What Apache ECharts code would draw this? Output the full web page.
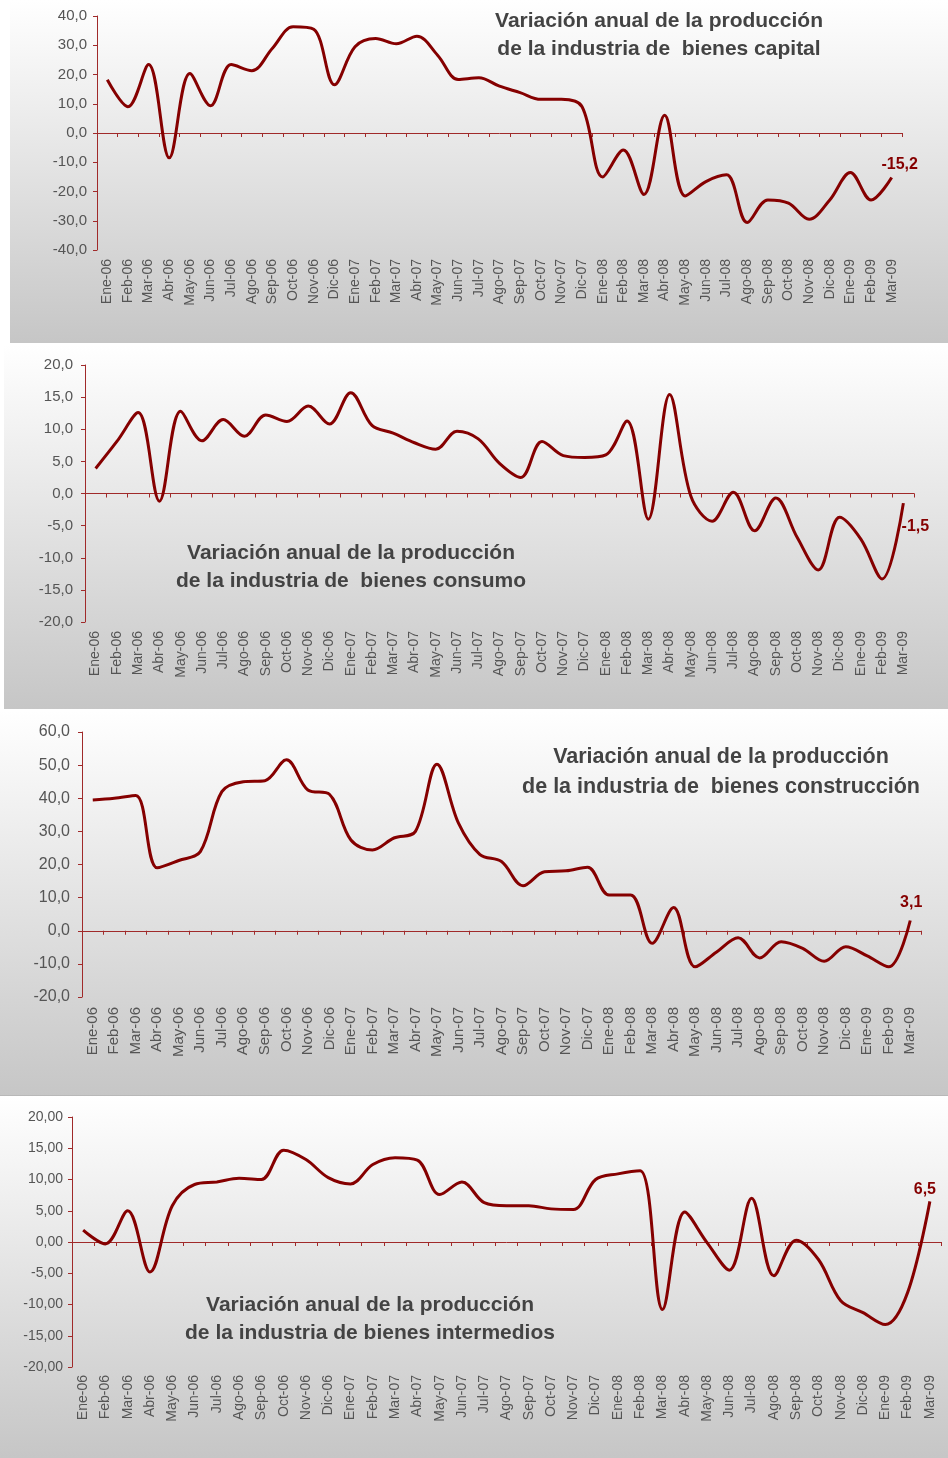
<!DOCTYPE html>
<html>
  <head>
    <meta charset="UTF-8" />
    <title>Variación anual de la producción industrial</title>
    <script src="https://cdn.jsdelivr.net/npm/echarts@6/dist/echarts.min.js"></script>
    <style>
      body {
        margin: 0;
        padding: 0;
        background: #fff;
      }
      #main {
        width: 948px;
        height: 1458px;
      }
    </style>
  </head>
  <body>
    <div id="main"></div>
    <script type="text/javascript">
      // meses del eje x
      var meses = [
        "Ene-06", "Feb-06", "Mar-06", "Abr-06", "May-06", "Jun-06", "Jul-06", "Ago-06", "Sep-06", "Oct-06", "Nov-06", "Dic-06",
        "Ene-07", "Feb-07", "Mar-07", "Abr-07", "May-07", "Jun-07", "Jul-07", "Ago-07", "Sep-07", "Oct-07", "Nov-07", "Dic-07",
        "Ene-08", "Feb-08", "Mar-08", "Abr-08", "May-08", "Jun-08", "Jul-08", "Ago-08", "Sep-08", "Oct-08", "Nov-08", "Dic-08",
        "Ene-09", "Feb-09", "Mar-09"
      ];

      var capital = [
        18.2, 9.0, 23.4, -8.5, 20.3, 9.3, 23.4, 21.3, 29.0, 36.3, 35.5, 16.5,
        29.5, 32.3, 30.5, 33.1, 26.6, 18.3, 18.9, 16.0, 13.8, 11.5, 11.5, 9.0,
        -15.0, -5.8, -21.0, 6.1, -21.5, -16.6, -14.3, -30.6, -22.9, -24.0, -29.5, -22.9,
        -13.5, -22.9, -15.2
      ];

      var consumo = [
        3.9, 8.1, 12.6, -1.2, 12.8, 8.2, 11.5, 8.9, 12.2, 11.2, 13.6, 10.8,
        15.7, 10.6, 9.4, 7.9, 6.9, 9.7, 8.5, 4.7, 2.5, 8.1, 5.9, 5.6,
        6.0, 11.3, -4.0, 15.4, -0.4, -4.3, 0.2, -5.8, -0.7, -6.8, -11.9, -3.7,
        -7.1, -13.3, -1.5
      ];

      var construccion = [
        39.5, 40.0, 40.8, 19.0, 21.2, 23.9, 42.0, 45.0, 45.3, 51.6, 42.5, 41.2,
        27.4, 24.4, 28.0, 30.0, 50.3, 32.5, 23.0, 20.9, 13.6, 17.8, 18.1, 19.2,
        10.8, 10.8, -3.8, 7.0, -10.9, -6.4, -2.1, -8.2, -3.3, -5.3, -9.2, -4.8,
        -7.6, -10.9, 3.1
      ];

      var intermedios = [
        1.9, -0.3, 5.0, -4.8, 5.8, 9.2, 9.6, 10.2, 10.0, 14.7, 13.2, 10.3,
        9.3, 12.4, 13.5, 13.1, 7.6, 9.6, 6.3, 5.8, 5.8, 5.3, 5.2, 10.0,
        10.9, 11.4, -10.8, 4.8, -0.1, -4.5, 7.0, -5.4, 0.3, -2.8, -9.4, -11.3,
        -13.2, -8.1, 6.5
      ];

      var titulos = [
        "Variación anual de la producción\nde la industria de  bienes capital",
        "Variación anual de la producción\nde la industria de  bienes consumo",
        "Variación anual de la producción\nde la industria de  bienes construcción",
        "Variación anual de la producción\nde la industria de bienes intermedios"
      ];

      var rojo = "#850000";
      var ejeColor = "#a02a2a";
      var textoGris = "#555555";
      var fuente = '"Liberation Sans", Arial, sans-serif';

      // posicion de cada panel (caja con degradado, grid, titulo)
      var paneles = [
        {
          datos: capital, caja: [10, 0, 938, 343],
          grid: { left: 97, top: 16, width: 805, height: 234 },
          min: -40, max: 40, paso: 10, dec: 1, yFont: 15, yMargin: 10, xFont: 14, xMargin: 9,
          tx: 659, ty: 7, tLh: 28, tFont: 21, etq: [8, -13]
        },
        {
          datos: consumo, caja: [4, 345, 944, 364],
          grid: { left: 85, top: 365, width: 829, height: 257 },
          min: -20, max: 20, paso: 5, dec: 1, yFont: 15, yMargin: 12, xFont: 14, xMargin: 9,
          tx: 351, ty: 539, tLh: 28, tFont: 21, etq: [12, 23]
        },
        {
          datos: construccion, caja: [0, 711, 948, 385],
          grid: { left: 82, top: 732, width: 839, height: 265 },
          min: -20, max: 60, paso: 10, dec: 1, yFont: 16, yMargin: 12, xFont: 15, xMargin: 10,
          tx: 721, ty: 742, tLh: 30, tFont: 21.5, etq: [1, -18]
        },
        {
          datos: intermedios, caja: [0, 1096, 948, 362],
          grid: { left: 72, top: 1117, width: 869, height: 250 },
          min: -20, max: 20, paso: 5, dec: 2, yFont: 14, yMargin: 9, xFont: 14, xMargin: 8,
          tx: 370, ty: 1291, tLh: 28, tFont: 21, etq: [-5, -12]
        }
      ];

      function coma(v, dec) {
        return Number(v).toFixed(dec).replace(".", ",");
      }

      var option = {
        animation: false,
        textStyle: { fontFamily: fuente },
        title: [],
        graphic: [],
        grid: [],
        xAxis: [],
        yAxis: [],
        series: []
      };

      paneles.forEach(function(p, k) {
        option.graphic.push({
          type: "rect",
          z: -10,
          silent: true,
          shape: { x: p.caja[0], y: p.caja[1], width: p.caja[2], height: p.caja[3] },
          style: {
            fill: new echarts.graphic.LinearGradient(0, 0, 0, 1, [
              { offset: 0, color: "#ffffff" },
              { offset: 1, color: "#c6c6c6" }
            ])
          }
        });

        option.title.push({
          text: titulos[k],
          left: p.tx,
          top: p.ty,
          textAlign: "center",
          padding: 0,
          textStyle: {
            fontFamily: fuente,
            fontSize: p.tFont,
            fontWeight: "bold",
            color: "#434343",
            lineHeight: p.tLh
          }
        });

        option.grid.push({
          left: p.grid.left,
          top: p.grid.top,
          width: p.grid.width,
          height: p.grid.height
        });

        // eje x sobre el cero (linea y marcas)
        option.xAxis.push({
          type: "category",
          gridIndex: k,
          data: meses,
          position: "bottom",
          boundaryGap: true,
          axisLine: { onZero: true, lineStyle: { color: ejeColor, width: 1 } },
          axisTick: { show: true, interval: 0, length: 4, lineStyle: { color: ejeColor } },
          axisLabel: { show: false },
          splitLine: { show: false }
        });
        // eje x abajo (solo etiquetas)
        option.xAxis.push({
          type: "category",
          gridIndex: k,
          data: meses,
          position: "bottom",
          boundaryGap: true,
          axisLine: { show: false, onZero: false },
          axisTick: { show: false },
          splitLine: { show: false },
          axisLabel: {
            interval: 0,
            rotate: 90,
            margin: p.xMargin,
            fontSize: p.xFont,
            color: textoGris,
            fontFamily: fuente
          }
        });

        option.yAxis.push({
          type: "value",
          gridIndex: k,
          min: p.min,
          max: p.max,
          interval: p.paso,
          axisLine: { show: true, lineStyle: { color: ejeColor, width: 1 } },
          axisTick: { show: true, length: 4, lineStyle: { color: ejeColor } },
          splitLine: { show: false },
          axisLabel: {
            margin: p.yMargin,
            fontSize: p.yFont,
            color: textoGris,
            fontFamily: fuente,
            formatter: function(v) {
              return coma(v, p.dec);
            }
          }
        });

        var ultimo = p.datos.length - 1;
        option.series.push({
          type: "line",
          xAxisIndex: 2 * k,
          yAxisIndex: k,
          data: p.datos,
          smooth: 0.35,
          showSymbol: false,
          symbol: "none",
          lineStyle: { color: rojo, width: 3 },
          markPoint: {
            symbol: "circle",
            symbolSize: 1,
            itemStyle: { color: "rgba(0,0,0,0)" },
            label: {
              show: true,
              position: "inside",
              offset: p.etq,
              color: rojo,
              fontWeight: "bold",
              fontSize: 16,
              fontFamily: fuente,
              formatter: function(d) {
                return coma(d.value, 1);
              }
            },
            data: [{ coord: [ultimo, p.datos[ultimo]], value: p.datos[ultimo] }]
          }
        });
      });

      // linea gris arriba del ultimo panel
      option.graphic.push({
        type: "line",
        z: -5,
        silent: true,
        shape: { x1: 0, y1: 1095.5, x2: 948, y2: 1095.5 },
        style: { stroke: "#b8b8b8", lineWidth: 1 }
      });

      var chart = echarts.init(document.getElementById("main"));
      chart.setOption(option);
    </script>
  </body>
</html>
